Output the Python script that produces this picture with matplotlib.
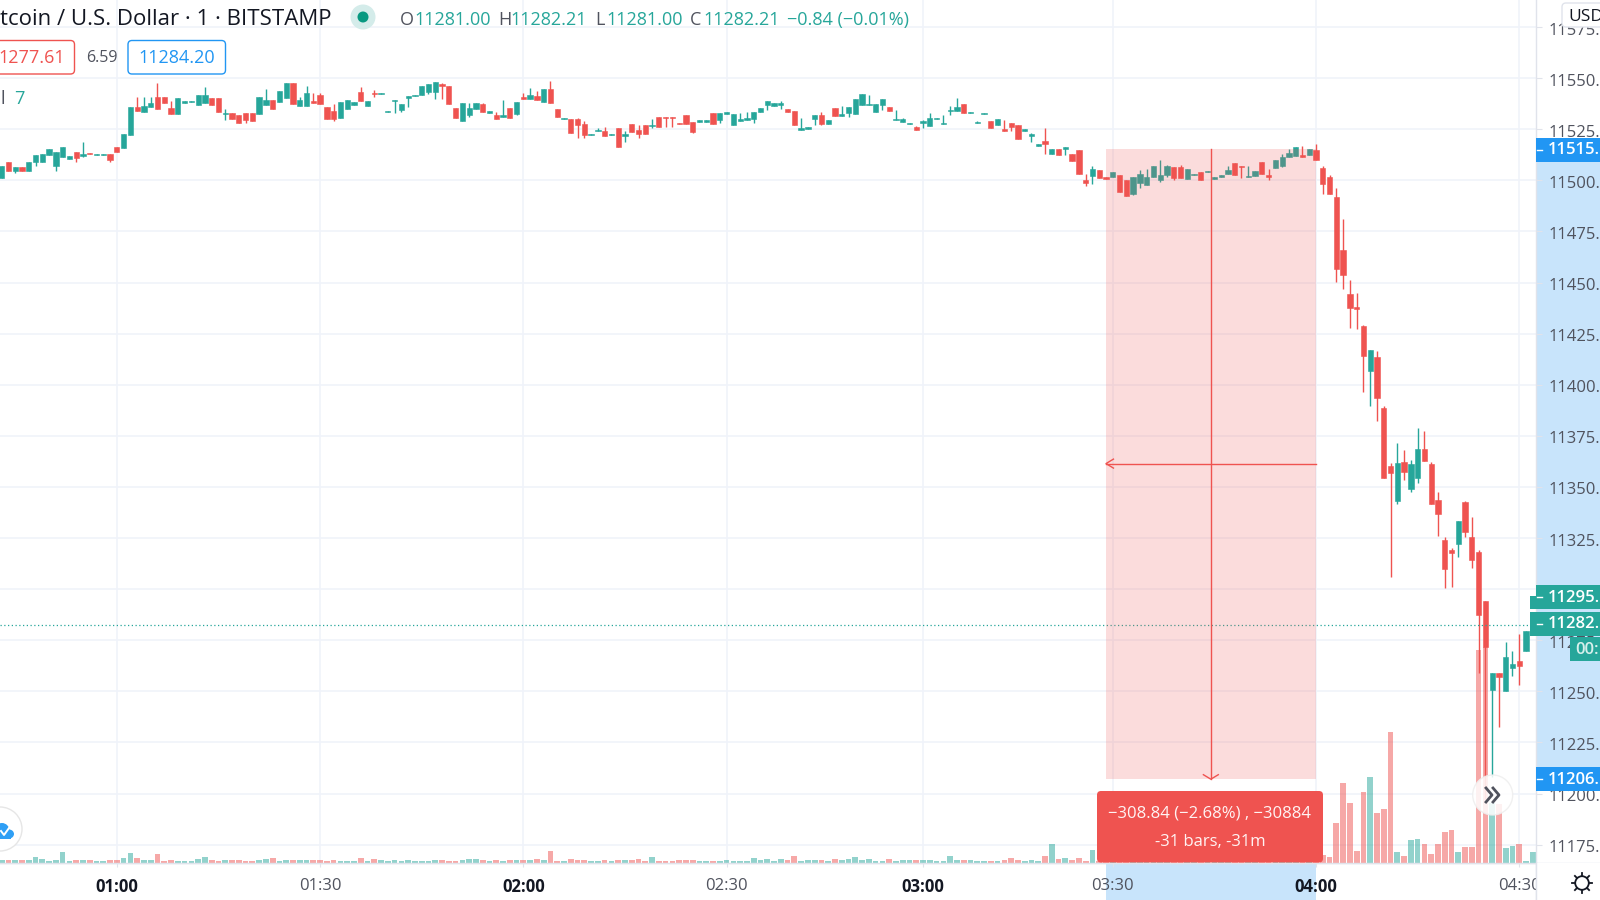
import numpy as np
import matplotlib
matplotlib.use("Agg")
import matplotlib.pyplot as plt
from matplotlib.patches import Rectangle, Circle, Ellipse, FancyBboxPatch
from matplotlib.transforms import ScaledTranslation

# prices are stored minus 11000 to keep the lists short
PRICE_BASE = 11000

opens = [
    501.3, 509.1, 504.7, 506.7, 504.7, 508.8, 508.8, 512.2, 507.2, 511.6,
    510.3, 514.0, 512.1, 513.5, 512.6, 512.6, 512.9, 516.3, 516.0, 522.2,
    535.9, 533.4, 536.0, 540.6, 540.6, 535.6, 532.3, 538.0, 538.2, 536.9,
    537.7, 540.4, 540.1, 532.5, 533.1, 532.1, 533.1, 533.1, 532.3, 536.7,
    539.3, 538.3, 540.3, 547.8, 536.2, 536.5, 538.7, 541.6, 535.9, 533.9,
    530.7, 535.1, 536.7, 543.4, 536.2, 542.9, 542.2, 533.3, 538.7, 534.3,
    540.3, 541.3, 541.8, 543.2, 543.1, 547.1, 546.2, 535.6, 528.9, 532.1,
    535.1, 537.2, 532.9, 532.1, 531.2, 535.6, 532.6, 540.6, 540.0, 541.1,
    538.5, 544.5, 534.9, 530.0, 530.0, 530.0, 527.6, 522.0, 524.0, 524.3,
    522.0, 525.4, 521.9, 527.6, 524.8, 526.9, 526.4, 531.0, 531.0, 531.0,
    528.2, 532.1, 528.7, 528.7, 528.7, 533.1, 529.4, 532.6, 527.1, 528.9,
    529.5, 529.8, 533.3, 537.0, 536.2, 537.0, 534.9, 533.8, 524.8, 525.1,
    530.0, 532.1, 527.7, 535.6, 531.6, 532.8, 532.3, 536.9, 536.7, 533.4,
    536.9, 536.0, 529.4, 528.4, 527.4, 525.9, 527.9, 526.7, 529.8, 527.7,
    533.9, 533.9, 537.2, 532.8, 527.9, 532.3, 528.9, 527.1, 525.0, 528.2,
    527.1, 524.3, 521.5, 517.0, 519.2, 513.0, 515.3, 515.5, 513.0, 514.8,
    500.0, 502.0, 505.2, 501.8, 501.8, 502.4, 500.2, 493.3, 498.5, 497.9,
    501.8, 500.2, 502.4, 506.4, 506.4, 500.7, 502.4, 504.2, 504.1, 500.8,
    501.8, 503.1, 508.5, 507.2, 501.5, 502.0, 509.0, 502.8, 505.9, 506.9,
    511.6, 511.9, 512.2, 512.4, 514.8, 506.2, 501.8, 491.7, 465.7, 444.4,
    437.8, 428.7, 406.9, 413.4, 388.7, 360.0, 343.2, 362.3, 349.1, 354.2,
    368.5, 361.2, 343.7, 324.2, 319.3, 322.2, 342.8, 325.3, 318.0, 294.3,
    250.8, 259.1, 250.2, 261.6, 264.7, 269.7, 279.0,
]
highs = [
    507.2, 509.1, 506.7, 506.7, 509.1, 512.6, 512.9, 515.2, 514.0, 516.3,
    511.9, 514.0, 518.8, 513.5, 513.0, 513.0, 512.9, 516.3, 522.7, 536.0,
    540.6, 540.6, 540.6, 547.8, 540.6, 538.8, 540.4, 538.7, 539.0, 541.8,
    545.5, 540.4, 540.1, 535.1, 533.1, 532.1, 533.1, 533.1, 540.6, 544.5,
    539.3, 543.7, 547.8, 547.8, 540.6, 546.2, 542.7, 542.6, 535.9, 537.3,
    538.2, 539.5, 538.3, 545.5, 538.8, 544.2, 542.7, 533.9, 539.3, 537.2,
    541.1, 541.8, 546.2, 547.1, 548.0, 547.8, 546.2, 535.6, 537.7, 537.7,
    537.7, 538.0, 533.8, 533.3, 539.3, 535.6, 538.3, 542.6, 545.0, 543.9,
    544.5, 548.6, 534.9, 530.7, 530.0, 530.5, 528.9, 522.7, 525.6, 525.9,
    522.7, 525.4, 524.3, 527.6, 526.9, 526.9, 529.8, 531.0, 531.0, 531.0,
    528.2, 532.1, 528.7, 529.4, 529.4, 533.1, 533.1, 533.3, 532.6, 532.8,
    533.3, 533.3, 535.6, 538.8, 537.7, 538.8, 534.9, 533.8, 530.3, 525.9,
    532.1, 533.4, 529.4, 535.6, 536.5, 536.0, 540.0, 542.2, 541.8, 537.2,
    540.0, 536.0, 534.4, 530.3, 528.2, 526.6, 529.4, 532.9, 530.3, 532.1,
    536.4, 540.1, 537.2, 533.4, 528.9, 532.8, 528.9, 529.8, 529.4, 528.2,
    527.1, 525.0, 523.2, 517.6, 525.4, 515.3, 515.3, 516.5, 513.0, 514.8,
    502.9, 506.9, 505.2, 501.8, 504.1, 502.4, 500.2, 501.8, 505.2, 505.7,
    506.9, 509.8, 507.5, 506.4, 507.5, 505.7, 503.1, 504.2, 504.6, 501.8,
    502.4, 507.0, 508.5, 507.2, 507.0, 504.4, 509.0, 505.7, 510.1, 512.9,
    515.2, 516.3, 517.0, 515.2, 517.8, 506.9, 502.4, 496.1, 481.1, 451.2,
    444.7, 429.0, 416.8, 416.6, 389.7, 361.7, 371.5, 368.0, 363.3, 378.6,
    377.5, 362.3, 347.6, 325.3, 319.9, 333.1, 343.2, 335.4, 319.1, 294.3,
    259.1, 259.1, 274.1, 269.7, 278.2, 279.4, 282.2,
]
lows = [
    501.3, 504.7, 503.8, 504.7, 504.7, 507.2, 508.8, 512.2, 504.7, 511.6,
    510.3, 509.1, 511.3, 512.9, 512.6, 512.6, 509.1, 513.7, 516.0, 522.2,
    533.9, 533.4, 536.0, 535.1, 537.8, 532.6, 532.3, 538.0, 538.2, 536.9,
    537.7, 536.7, 533.4, 529.5, 530.2, 528.2, 528.2, 528.9, 532.3, 536.7,
    535.1, 538.3, 540.3, 537.2, 536.2, 536.5, 537.8, 537.2, 530.2, 528.9,
    530.7, 535.1, 536.7, 539.0, 536.2, 540.9, 542.2, 533.3, 532.8, 533.3,
    536.0, 541.3, 541.8, 542.2, 540.0, 540.0, 537.3, 530.5, 528.9, 531.2,
    535.1, 533.3, 532.9, 530.0, 531.2, 530.5, 532.0, 539.6, 540.0, 539.3,
    538.5, 537.8, 531.0, 530.0, 523.2, 520.9, 520.9, 522.0, 524.0, 521.7,
    522.0, 516.5, 518.8, 523.8, 520.9, 522.7, 525.4, 526.1, 526.1, 526.1,
    527.7, 527.6, 523.2, 528.7, 528.7, 527.7, 528.2, 532.6, 527.1, 528.9,
    529.5, 528.2, 533.3, 534.4, 536.2, 535.1, 533.4, 527.1, 524.6, 525.1,
    527.1, 527.1, 527.7, 531.6, 531.6, 531.2, 532.3, 536.9, 536.7, 533.4,
    534.4, 533.9, 529.4, 528.4, 527.4, 524.5, 525.4, 526.7, 529.8, 527.7,
    532.1, 533.9, 532.8, 532.8, 527.9, 532.3, 525.4, 527.1, 524.3, 524.3,
    520.4, 524.3, 518.8, 517.0, 513.0, 513.0, 512.6, 512.6, 509.6, 502.9,
    497.2, 498.4, 501.3, 500.8, 501.8, 494.5, 492.3, 492.8, 496.2, 497.9,
    501.8, 499.0, 501.8, 500.2, 501.3, 500.7, 502.4, 500.2, 504.1, 500.8,
    501.8, 503.1, 502.4, 501.1, 501.5, 502.0, 503.1, 500.2, 505.9, 506.4,
    511.6, 511.9, 511.6, 512.4, 509.8, 493.5, 493.5, 450.4, 447.0, 427.6,
    427.1, 396.2, 389.4, 382.1, 354.2, 305.7, 341.6, 353.5, 347.3, 351.7,
    362.5, 341.8, 326.0, 300.3, 300.8, 315.5, 325.3, 310.3, 259.1, 197.5,
    208.1, 232.7, 250.2, 257.5, 252.9, 269.7, 277.4,
]
closes = [
    507.2, 504.7, 506.7, 504.7, 509.1, 512.6, 512.9, 515.2, 514.0, 516.3,
    511.9, 511.1, 512.7, 512.9, 513.0, 513.0, 509.9, 513.7, 522.7, 536.0,
    533.9, 536.5, 537.7, 535.1, 537.8, 532.6, 540.4, 538.7, 539.0, 541.8,
    541.6, 536.7, 533.4, 533.1, 530.2, 528.2, 529.5, 528.9, 540.6, 539.5,
    535.1, 543.7, 547.8, 537.2, 539.5, 542.7, 537.8, 537.2, 530.2, 530.2,
    538.2, 539.5, 538.3, 539.0, 538.8, 542.2, 542.7, 533.9, 539.3, 537.2,
    541.1, 541.8, 546.2, 547.1, 548.0, 546.2, 537.3, 530.5, 537.7, 535.6,
    537.7, 533.3, 533.8, 530.0, 532.0, 530.5, 538.3, 540.0, 541.6, 539.3,
    544.5, 537.8, 531.0, 530.7, 523.2, 527.2, 522.2, 522.7, 524.8, 521.7,
    522.7, 516.5, 522.7, 523.8, 522.7, 522.7, 527.1, 526.1, 530.3, 530.3,
    527.7, 527.6, 523.6, 529.4, 529.4, 527.7, 533.1, 533.3, 532.6, 529.8,
    530.3, 533.3, 535.6, 538.8, 537.7, 537.8, 533.4, 527.1, 525.4, 525.9,
    532.1, 527.6, 529.4, 531.6, 532.6, 536.0, 540.0, 542.2, 537.2, 537.2,
    540.0, 533.9, 529.8, 529.8, 528.2, 524.5, 528.9, 530.3, 530.3, 528.2,
    534.4, 536.0, 532.8, 533.4, 528.4, 532.8, 525.4, 529.8, 524.3, 526.1,
    520.4, 525.0, 522.5, 517.6, 517.8, 515.3, 512.6, 516.5, 509.6, 502.9,
    498.5, 505.7, 501.3, 500.8, 504.1, 494.5, 492.3, 501.8, 502.9, 501.8,
    506.9, 502.4, 507.0, 501.3, 501.3, 505.7, 503.1, 500.2, 504.6, 501.8,
    502.4, 505.2, 502.4, 506.4, 502.1, 504.4, 503.1, 501.8, 510.1, 511.3,
    513.5, 516.3, 511.6, 515.2, 509.8, 498.0, 493.5, 456.6, 453.8, 437.5,
    437.0, 414.2, 416.8, 393.3, 354.2, 356.9, 361.7, 357.4, 361.2, 368.5,
    362.5, 341.8, 336.7, 309.8, 317.6, 333.1, 327.7, 314.2, 287.3, 271.7,
    259.1, 257.0, 267.0, 263.5, 262.6, 279.4, 282.2,
]
volumes = [
    2.3, 2.3, 2.3, 2.3, 2.3, 6.0, 3.7, 1.3, 2.3, 10.3,
    1.3, 2.3, 2.3, 2.3, 1.3, 1.3, 2.3, 2.3, 4.7, 9.3,
    4.7, 2.3, 2.3, 8.3, 1.3, 2.3, 1.3, 1.3, 1.3, 3.7,
    6.0, 2.3, 1.3, 2.3, 2.3, 2.3, 1.3, 1.3, 2.3, 3.7,
    4.7, 1.3, 2.3, 2.3, 2.3, 2.3, 2.3, 2.3, 1.3, 2.3,
    1.3, 1.3, 1.3, 4.7, 1.3, 3.7, 2.3, 1.3, 2.3, 1.3,
    2.3, 1.3, 1.3, 1.3, 2.3, 2.3, 1.3, 1.3, 2.3, 3.7,
    3.7, 2.3, 1.3, 2.3, 1.3, 2.3, 2.3, 2.3, 2.3, 3.7,
    2.3, 11.7, 1.3, 1.3, 3.7, 2.3, 2.3, 1.3, 1.3, 2.3,
    1.3, 2.3, 2.3, 2.3, 3.7, 1.3, 6.0, 1.3, 1.3, 1.3,
    2.3, 2.3, 2.3, 1.3, 1.3, 1.3, 1.3, 2.3, 1.3, 1.3,
    1.3, 4.7, 2.3, 3.7, 1.3, 3.7, 2.3, 7.0, 1.3, 2.3,
    2.3, 2.3, 1.3, 3.7, 2.3, 3.7, 6.0, 2.3, 3.7, 1.3,
    1.3, 3.7, 1.3, 2.3, 2.3, 2.3, 2.3, 2.3, 1.3, 1.3,
    7.0, 2.3, 2.3, 2.3, 1.3, 1.3, 1.3, 1.3, 2.3, 4.7,
    2.3, 1.3, 2.3, 1.3, 7.0, 18.7, 3.7, 4.7, 2.3, 4.7,
    1.3, 12.7, 2.0, 2.0, 2.0, 2.0, 2.0, 2.0, 2.0, 2.0,
    2.0, 2.0, 2.0, 2.0, 2.0, 2.0, 2.0, 2.0, 2.0, 2.0,
    2.0, 2.0, 2.0, 2.0, 2.0, 2.0, 2.0, 2.0, 2.0, 2.0,
    2.0, 2.0, 2.0, 2.0, 2.0, 7.3, 5.3, 39.3, 79.7, 59.3,
    12.0, 70.7, 85.3, 50.0, 53.3, 130.3, 10.7, 6.3, 22.3, 23.7,
    19.0, 8.3, 19.0, 30.3, 32.7, 10.7, 15.3, 15.3, 212.7, 216.0,
    59.3, 59.0, 14.3, 16.7, 19.0, 1.3, 10.7,
]

time_ticks = [18, 48, 78, 108, 137, 165, 195, 225]
time_labels = ["01:00", "01:30", "02:00", "02:30", "03:00", "03:30", "04:00", "04:30"]
bold_labels = ["01:00", "02:00", "03:00", "04:00"]
price_ticks = list(range(11175, 11576, 25))

last_price = 11282.21
measure_start, measure_end = 164.0, 194.95
measure_top, measure_bottom = 11515.2, 11207.0

GREEN = "#26a69a"
RED = "#ef5350"
BLUE = "#2196f3"
GRID = "#f0f3fa"
LINE = "#e0e3eb"
TEXT = "#50535e"
FONT = ["Open Sans", "DejaVu Sans"]

plt.rcParams["font.family"] = FONT

W, H = 1600, 900
PANE_R = 1536
PANE_B = 862.7
PX_PER_BAR = 6.775
PX_PER_PRICE = 2.044

fig = plt.figure(figsize=(16, 9), dpi=100, facecolor="white")

# pixel space layers below and above the chart
under = fig.add_axes([0, 0, 1, 1], zorder=-1)
under.set_xlim(0, W)
under.set_ylim(H, 0)
under.axis("off")
over = fig.add_axes([0, 0, 1, 1], zorder=5)
over.set_xlim(0, W)
over.set_ylim(H, 0)
over.axis("off")

ax = fig.add_axes([0, (H - PANE_B) / H, PANE_R / W, PANE_B / H], zorder=1)
ax.set_xlim(1 - 1.67 / PX_PER_BAR, 1 + (PANE_R - 1.67) / PX_PER_BAR)
price_top = 11500 + 180.3 / PX_PER_PRICE
price_bottom = 11500 - (PANE_B - 180.3) / PX_PER_PRICE
ax.set_ylim(price_bottom, price_top)

o = np.array(opens) + PRICE_BASE
h = np.array(highs) + PRICE_BASE
l = np.array(lows) + PRICE_BASE
c = np.array(closes) + PRICE_BASE
x = np.arange(1, len(o) + 1)
colors = [GREEN if cl >= op else RED for op, cl in zip(o, c)]

# volume shares the pane, one volume unit is one pixel tall
ax.bar(x, np.array(volumes) / PX_PER_PRICE, bottom=price_bottom, width=0.84,
       color=colors, alpha=0.5, linewidth=0, zorder=1)
ax.vlines(x, l, h, colors=colors, linewidth=1.0, zorder=3)
ax.bar(x, np.abs(c - o), bottom=np.minimum(o, c), width=0.78, color=colors,
       edgecolor=colors, linewidth=0.4, zorder=4)

ax.axhline(last_price, color=GREEN, linestyle=(0, (1, 2)), linewidth=0.9, zorder=5)

# measuring tool
ax.add_patch(Rectangle((measure_start, measure_bottom), measure_end - measure_start,
                       measure_top - measure_bottom, facecolor="#ef5350", alpha=0.2,
                       linewidth=0, zorder=6))
mid_x = (measure_start + measure_end) / 2
mid_y = (measure_top + measure_bottom) / 2 + 0.3
ax.plot([measure_start, measure_end], [mid_y, mid_y], color=RED, linewidth=1.0, zorder=7)
ax.plot([mid_x, mid_x], [measure_bottom, measure_top], color=RED, linewidth=1.0, zorder=7)
ax.plot([measure_start + 1.1, measure_start, measure_start + 1.1],
        [mid_y + 2.2, mid_y, mid_y - 2.2], color=RED, linewidth=1.0, zorder=7)
ax.plot([mid_x - 1.1, mid_x, mid_x + 1.1],
        [measure_bottom + 2.2, measure_bottom, measure_bottom + 2.2],
        color=RED, linewidth=1.0, zorder=7)

ax.set_xticks(time_ticks)
ax.set_xticklabels(time_labels)
ax.set_yticks(price_ticks)
ax.set_yticklabels([f"{p}." for p in price_ticks])
ax.yaxis.tick_right()
ax.grid(True, color=GRID, linewidth=1.2, zorder=0)
ax.set_axisbelow(True)
ax.tick_params(axis="y", length=4.5, width=0.8, color=LINE, pad=4.2, labelsize=12, labelcolor=TEXT)
ax.tick_params(axis="x", length=3, width=0.8, color=LINE, pad=8, labelsize=12, labelcolor=TEXT)
for lab in ax.get_xticklabels():
    if lab.get_text() in bold_labels:
        lab.set_fontweight("bold")
        lab.set_color("#131722")
down = ScaledTranslation(0, -1.5 / 100, fig.dpi_scale_trans)
for lab in ax.get_yticklabels():
    lab.set_transform(lab.get_transform() + down)
for name in ["top", "left"]:
    ax.spines[name].set_visible(False)
for name in ["right", "bottom"]:
    ax.spines[name].set_color(LINE)
    ax.spines[name].set_linewidth(1.0)

# axis highlights go under the tick labels
under.add_patch(Rectangle((PANE_R, 150), W - PANE_R, 630, facecolor="#c8e4fb", linewidth=0))
under.add_patch(Rectangle((1105.5, PANE_B), 210.5, H - PANE_B, facecolor="#c8e4fb", linewidth=0))
under.plot([PANE_R, PANE_R], [PANE_B, H], color=LINE, linewidth=1.0)
under.plot([0, W], [PANE_B, PANE_B], color=LINE, linewidth=1.0)

# right hand price tags
over.add_patch(Rectangle((PANE_R, 137.7), W - PANE_R, 24, facecolor=BLUE, linewidth=0))
over.text(1548, 150.5, "11515.", color="white", fontsize=12, fontweight="semibold", va="center")
over.add_patch(Rectangle((PANE_R, 767), W - PANE_R, 24, facecolor=BLUE, linewidth=0))
over.text(1548, 779.5, "11206.", color="white", fontsize=12, fontweight="semibold", va="center")
over.add_patch(Rectangle((1530, 596), 70, 12.5, facecolor=GREEN, linewidth=0))
over.add_patch(Rectangle((PANE_R, 585), W - PANE_R, 23.5, facecolor=GREEN, linewidth=0))
over.add_patch(Rectangle((1530, 612), 70, 24, facecolor=GREEN, linewidth=0))
over.text(1548, 597.5, "11295.", color="white", fontsize=12, fontweight="semibold", va="center")
over.text(1548, 624.5, "11282.", color="white", fontsize=12, fontweight="semibold", va="center")
over.add_patch(Rectangle((1570, 637), 30, 24, facecolor=GREEN, linewidth=0))
over.text(1575, 650, "00:", color="#d7f0ec", fontsize=12, fontweight="semibold", va="center")
for ty in [149.5, 596.5, 623.5, 778.5]:
    over.plot([1537, 1542], [ty, ty], color="white", linewidth=1.0)

# hides the tail of the last time label
over.add_patch(Rectangle((PANE_R + 0.6, PANE_B + 0.6), W - PANE_R, H - PANE_B, facecolor="white", linewidth=0))
over.plot([PANE_R, PANE_R], [PANE_B, H], color=LINE, linewidth=1.0)

# USD box
over.add_patch(FancyBboxPatch((1562, 3), 60, 24, boxstyle="round,pad=0,rounding_size=4",
                              facecolor="white", edgecolor=LINE, linewidth=1.0))
over.text(1568, 17, "USD", color="#131722", fontsize=12.5, va="center")

# header
over.text(0, 19.5, "tcoin / U.S. Dollar · 1 · BITSTAMP", color="#131722", fontsize=16, va="center")
over.add_patch(Circle((363, 17), 12.5, facecolor="#d4ecea", linewidth=0))
over.add_patch(Circle((363, 17), 5.5, facecolor="#089981", linewidth=0))
for tx, s, col in [(400, "O", TEXT), (414, "11281.00", GREEN), (498, "H", TEXT), (510, "11282.21", GREEN),
                   (595, "L", TEXT), (606, "11281.00", GREEN), (690, "C", TEXT), (703, "11282.21", GREEN),
                   (787, "−0.84 (−0.01%)", GREEN)]:
    over.text(tx, 20, s, color=col, fontsize=13, va="center")

# order boxes
over.add_patch(FancyBboxPatch((-20, 40.5), 94.5, 33.5, boxstyle="round,pad=0,rounding_size=4",
                              facecolor="white", edgecolor=RED, linewidth=1.0))
over.text(-2, 58, "1277.61", color=RED, fontsize=13, va="center")
over.text(86, 58, "6.59", color=TEXT, fontsize=11.5, va="center")
over.add_patch(FancyBboxPatch((128, 40.5), 97.5, 33.5, boxstyle="round,pad=0,rounding_size=4",
                              facecolor="white", edgecolor=BLUE, linewidth=1.0))
over.text(177, 58, "11284.20", color=BLUE, fontsize=13, va="center", ha="center")
over.text(0, 99, "l", color=TEXT, fontsize=13, va="center")
over.text(14, 99, "7", color=GREEN, fontsize=13, va="center")

# measure label
over.add_patch(FancyBboxPatch((1097, 791), 226, 71.5, boxstyle="round,pad=0,rounding_size=4",
                              facecolor=RED, edgecolor="none"))
over.text(1210, 814, "−308.84 (−2.68%) , −30884", color="#fff3f3", fontsize=12, ha="center", va="center")
over.text(1210, 842.5, "-31 bars, -31m", color="#fff3f3", fontsize=12, ha="center", va="center")

# scroll button
over.add_patch(Circle((1492.7, 795), 20, facecolor="white", edgecolor="#eeeeee", linewidth=1.0, alpha=0.85))
for dx in [0, 7]:
    over.plot(np.array([1486, 1492, 1486]) + dx, [788, 795, 802], color=TEXT, linewidth=2.0)

# cloud button at lower left
over.add_patch(Circle((0, 829), 22, facecolor="white", edgecolor="#e6e6e6", linewidth=1.0))
over.add_patch(Ellipse((9, 834), 10, 9, facecolor="#2f9ff5", linewidth=0))
over.add_patch(Ellipse((2, 831), 15, 16, facecolor="#2f9ff5", linewidth=0))
over.add_patch(Rectangle((0, 832), 11, 6.5, facecolor="#2f9ff5", linewidth=0))
over.plot([1, 4, 9], [831, 835, 828], color="white", linewidth=1.4)

# settings gear
over.add_patch(Circle((1582, 883), 6.8, facecolor="white", edgecolor="#131722", linewidth=1.3))
for ang in np.arange(8) * np.pi / 4:
    over.plot([1582 + 7 * np.cos(ang), 1582 + 10 * np.cos(ang)],
              [883 + 7 * np.sin(ang), 883 + 10 * np.sin(ang)], color="#131722", linewidth=1.3)

fig.savefig("out.png", dpi=100)
